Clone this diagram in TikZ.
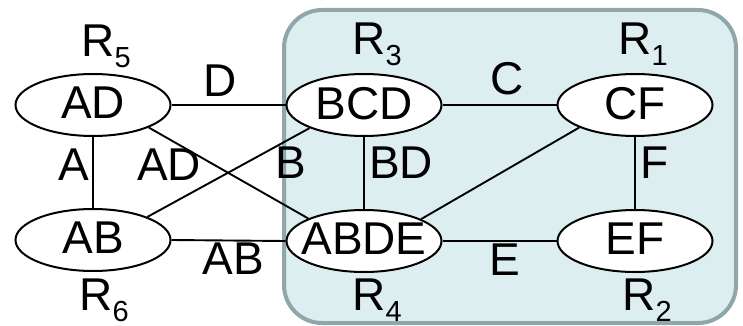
\documentclass[tikz,border=0pt]{standalone}
\usepackage{fontspec}
\setmainfont{Liberation Sans}
\usetikzlibrary{shapes.geometric}
\definecolor{boxfill}{RGB}{221,238,241}
\definecolor{boxline}{RGB}{143,166,170}
\newcommand{\Rlab}[1]{R\raisebox{-11pt}{\fontsize{29}{30}\selectfont #1}}
\newcommand{\ctext}[1]{\makebox[0pt][c]{\raisebox{2pt}{#1}}}
\tikzset{
  cluster/.style={ellipse, draw=black, line width=2pt, fill=white,
    minimum width=155pt, minimum height=62pt, inner sep=0pt, text depth=2pt,
    font=\fontsize{46}{50}\selectfont},
  lab/.style={anchor=base, inner sep=0pt, font=\fontsize{46}{50}\selectfont},
  sepline/.style={draw=black, line width=1.9pt},
  region/.style={draw=boxline, line width=4pt, fill=boxfill, rounded corners=38pt}
}
\begin{document}
\begin{tikzpicture}[x=1pt,y=-1pt]
\useasboundingbox (0,0) rectangle (743,326);
\draw[region] (284,10) rectangle (736,323);
% nodes
\node[cluster] (AD) at (93,105) {\ctext{AD}};
\node[cluster] (BCD) at (364,105) {\ctext{BCD}};
\node[cluster] (CF) at (635,105) {\ctext{CF}};
\node[cluster] (AB) at (93,240) {\ctext{AB}};
\node[cluster] (ABDE) at (364,241) {\ctext{ABDE}};
\node[cluster] (EF) at (635,241) {\ctext{EF}};
% edges
\path[sepline] (AD) -- (BCD);
\path[sepline] (BCD) -- (CF);
\path[sepline] (AD) -- (AB);
\path[sepline] (BCD) -- (ABDE);
\path[sepline] (CF) -- (EF);
\path[sepline] (AB.east) -- (ABDE.west);
\path[sepline] (ABDE) -- (EF);
\path[sepline] (AD.338) -- (ABDE.158);
\path[sepline] (AB.23) -- (BCD.203);
\path[sepline] (ABDE.21) -- (CF.202);
% region labels
\node[lab] (r5) at (106,57) {\Rlab{5}};
\node[lab] (r3) at (377,55) {\Rlab{3}};
\node[lab] (r1) at (643,55) {\Rlab{1}};
\node[lab] (r6) at (104,310) {\Rlab{6}};
\node[lab] (r4) at (377,310) {\Rlab{4}};
\node[lab] (r2) at (647,310) {\Rlab{2}};
% separator labels
\node[lab] (lD) at (220,97) {D};
\node[lab] (lC) at (507,95) {C};
\node[lab] (lA) at (74,180) {A};
\node[lab] (lAD) at (169,180) {AD};
\node[lab] (lB) at (291,178) {B};
\node[lab] (lBD) at (401,178) {BD};
\node[lab] (lF) at (655,178) {F};
\node[lab] (lAB) at (233,274) {AB};
\node[lab] (lE) at (505,275) {E};
\end{tikzpicture}
\end{document}
